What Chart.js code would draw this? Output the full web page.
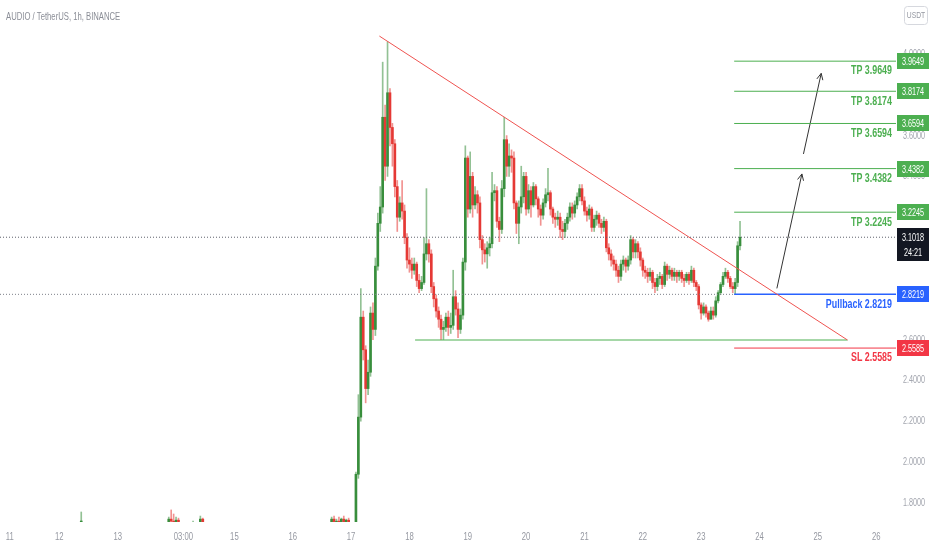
<!DOCTYPE html>
<html>
<head>
<meta charset="utf-8">
<script src="https://cdn.jsdelivr.net/npm/chart.js@4.4.1/dist/chart.umd.min.js"></script>
<style>
  html, body { margin: 0; padding: 0; background: #fff; }
  #wrap { width: 932px; height: 550px; position: relative; }
</style>
</head>
<body>
<div id="wrap"><canvas id="chart"></canvas></div>
<script>
// AUDIO/USDT 1h candles. x = day of month, y = price
const FONT = "'Liberation Sans', Arial, sans-serif";

// scattered pre-breakout bars (hours relative to day 17 00:00)
const earlyHours  = [-111, -75, -74, -73, -72, -71, -65, -62, -61, -8, -7, -6, -5, -4, -3, -2, -1, 0, 1];
const earlyOpens  = [1.70, 1.68, 1.72, 1.71, 1.69, 1.715, 1.68, 1.69, 1.72, 1.69, 1.72, 1.70, 1.71, 1.69, 1.72, 1.70, 1.715, 1.69, 1.68];
const earlyHighs  = [1.755, 1.73, 1.765, 1.745, 1.73, 1.725, 1.71, 1.735, 1.725, 1.73, 1.735, 1.72, 1.73, 1.725, 1.735, 1.72, 1.725, 1.70, 1.70];
const earlyLows   = [1.66, 1.65, 1.69, 1.68, 1.67, 1.68, 1.67, 1.68, 1.68, 1.67, 1.69, 1.68, 1.68, 1.68, 1.69, 1.68, 1.68, 1.66, 1.66];
const earlyCloses = [1.70, 1.72, 1.71, 1.69, 1.715, 1.69, 1.70, 1.72, 1.69, 1.72, 1.70, 1.71, 1.69, 1.72, 1.70, 1.715, 1.69, 1.68, 1.70];

// hourly bars from day 17 02:00 onwards
const firstHour = 2;
const firstOpen = 1.70;
const closes = [
  1.94, 2.22, 2.71, 2.55, 2.36, 2.44, 2.73, 2.65, 2.96, 3.17,
  3.25, 3.69, 3.45, 3.81, 3.64, 3.56, 3.35, 3.20, 3.27, 3.23,
  3.10, 2.99, 2.97, 2.94, 2.97, 2.89, 2.85, 2.88, 3.02, 3.07,
  3.02, 2.86, 2.80, 2.74, 2.70, 2.65, 2.66, 2.71, 2.66, 2.67,
  2.81, 2.75, 2.65, 2.72, 2.98, 3.49, 3.24, 3.40, 3.26, 3.31,
  3.27, 3.09, 3.04, 3.02, 3.05, 3.07, 3.32, 3.33, 3.18, 3.14,
  3.34, 3.58, 3.45, 3.50, 3.49, 3.27, 3.17, 3.25, 3.30, 3.40,
  3.24, 3.33, 3.26, 3.35, 3.29, 3.24, 3.21, 3.27, 3.31, 3.32,
  3.24, 3.20, 3.19, 3.20, 3.14, 3.13, 3.17, 3.20, 3.25, 3.22,
  3.26, 3.30, 3.34, 3.28, 3.23, 3.21, 3.24, 3.15, 3.19, 3.21,
  3.17, 3.15, 3.18, 3.05, 3.02, 2.99, 2.97, 2.94, 2.91, 2.97,
  2.99, 2.96, 2.99, 3.09, 3.03, 3.07, 3.03, 2.99, 2.94, 2.93,
  2.91, 2.93, 2.88, 2.86, 2.90, 2.91, 2.87, 2.96, 2.92, 2.94,
  2.91, 2.93, 2.91, 2.93, 2.90, 2.89, 2.92, 2.89, 2.94, 2.88,
  2.86, 2.77, 2.73, 2.76, 2.73, 2.70, 2.74, 2.72, 2.79, 2.83,
  2.87, 2.91, 2.93, 2.90, 2.86, 2.85, 2.88, 3.06, 3.1018
];
const highs = [
  1.95, 2.33, 2.85, 2.74, 2.57, 2.50, 2.76, 2.78, 3.00, 3.22,
  3.35, 3.96, 3.75, 4.06, 3.83, 3.66, 3.58, 3.38, 3.30, 3.38,
  3.26, 3.12, 3.05, 3.00, 3.00, 2.98, 2.92, 2.91, 3.10, 3.34,
  3.09, 3.04, 2.88, 2.82, 2.76, 2.72, 2.69, 2.73, 2.74, 2.73,
  2.94, 2.84, 2.78, 2.75, 3.00, 3.55, 3.50, 3.52, 3.42, 3.35,
  3.33, 3.30, 3.11, 3.07, 3.08, 3.10, 3.42, 3.36, 3.35, 3.20,
  3.38, 3.69, 3.60, 3.56, 3.53, 3.52, 3.28, 3.28, 3.45, 3.42,
  3.42, 3.36, 3.35, 3.37, 3.36, 3.30, 3.26, 3.29, 3.34, 3.44,
  3.33, 3.25, 3.22, 3.23, 3.22, 3.18, 3.19, 3.22, 3.27, 3.27,
  3.28, 3.32, 3.36, 3.36, 3.30, 3.25, 3.26, 3.25, 3.21, 3.23,
  3.22, 3.19, 3.20, 3.19, 3.07, 3.04, 3.01, 2.99, 2.96, 2.99,
  3.01, 3.00, 3.01, 3.11, 3.10, 3.09, 3.08, 3.05, 3.00, 2.96,
  2.95, 2.95, 2.94, 2.90, 2.92, 2.93, 2.92, 2.98, 2.97, 2.96,
  2.95, 2.95, 2.94, 2.94, 2.94, 2.92, 2.93, 2.93, 2.96, 2.95,
  2.89, 2.87, 2.78, 2.78, 2.77, 2.74, 2.76, 2.76, 2.81, 2.84,
  2.88, 2.93, 2.95, 2.94, 2.91, 2.88, 2.90, 3.08, 3.18
];
const lows = [
  1.68, 1.92, 2.20, 2.50, 2.29, 2.33, 2.42, 2.60, 2.62, 2.94,
  3.13, 3.22, 3.38, 3.40, 3.55, 3.45, 3.30, 3.13, 3.18, 3.19,
  3.07, 2.95, 2.93, 2.90, 2.92, 2.86, 2.83, 2.84, 2.87, 2.99,
  2.98, 2.83, 2.76, 2.71, 2.66, 2.60, 2.60, 2.64, 2.62, 2.63,
  2.65, 2.72, 2.61, 2.63, 2.70, 2.94, 3.20, 3.22, 3.20, 3.24,
  3.22, 3.05, 2.97, 2.98, 2.95, 3.01, 3.05, 3.28, 3.15, 3.08,
  3.12, 3.30, 3.40, 3.40, 3.42, 3.24, 3.12, 3.07, 3.22, 3.27,
  3.21, 3.22, 3.20, 3.25, 3.26, 3.20, 3.16, 3.19, 3.25, 3.28,
  3.21, 3.17, 3.15, 3.16, 3.10, 3.09, 3.10, 3.14, 3.18, 3.19,
  3.20, 3.24, 3.28, 3.26, 3.21, 3.18, 3.19, 3.13, 3.13, 3.16,
  3.15, 3.12, 3.13, 3.03, 2.99, 2.96, 2.94, 2.91, 2.88, 2.89,
  2.94, 2.93, 2.94, 2.97, 3.00, 3.00, 3.00, 2.96, 2.91, 2.90,
  2.88, 2.89, 2.85, 2.83, 2.84, 2.87, 2.85, 2.86, 2.89, 2.90,
  2.89, 2.89, 2.88, 2.89, 2.88, 2.86, 2.88, 2.87, 2.88, 2.86,
  2.84, 2.75, 2.70, 2.72, 2.71, 2.69, 2.70, 2.70, 2.71, 2.78,
  2.82, 2.86, 2.90, 2.88, 2.85, 2.83, 2.82, 2.86, 3.04
];

// axes
const xTickValues = [11.15, 12, 13, 14.125, 15, 16, 17, 18, 19, 20, 21, 22, 23, 24, 25, 26];
const xTickLabels = ['11', '12', '13', '03:00', '15', '16', '17', '18', '19', '20', '21', '22', '23', '24', '25', '26'];
const yTickValues = [1.8, 2.0, 2.2, 2.4, 2.6, 2.8, 3.0, 3.2, 3.4, 3.6, 3.8, 4.0];
const X_MIN = 10.9825, X_MAX = 26.34;
const Y_MIN = 1.7059, Y_MAX = 4.2647;

// drawings
const tpLevels = [3.9649, 3.8174, 3.6594, 3.4382, 3.2245];
const pullbackLevel = 2.8219;
const slLevel = 2.5585;
const lastPrice = 3.1018;
const countdown = '24:21';
const levelStart = 23.566;
const trendFrom = [17.485, 4.088];
const trendTo = [25.508, 2.598];
const supportLevel = 2.598;
const supportFrom = 18.097;
const arrowSegments = [
  [24.298, 2.851, 24.727, 3.412],
  [24.754, 3.510, 25.058, 3.905]
];

const GREEN = '#388e3c', RED = '#e53935';
const TP_GREEN = '#4caf50', BLUE = '#2962ff', SL_RED = '#f23645';

const hourToDay = h => 17 + h / 24;
const bodies = [], wicks = [], bodyColors = [], wickColors = [];
function addBar(h, o, hi, lo, c) {
  const x = hourToDay(h);
  const up = c >= o;
  bodies.push({ x, y: [o, c] });
  wicks.push({ x, y: [lo, hi] });
  bodyColors.push(up ? GREEN : RED);
  wickColors.push(up ? 'rgba(56,142,60,0.55)' : 'rgba(229,57,53,0.55)');
}
earlyHours.forEach((h, i) => addBar(h, earlyOpens[i], earlyHighs[i], earlyLows[i], earlyCloses[i]));
let prevClose = firstOpen;
closes.forEach((c, i) => {
  addBar(firstHour + i, prevClose, highs[i], lows[i], c);
  prevClose = c;
});

const seg = (pts, color, extra = {}) => Object.assign({
  type: 'line',
  data: pts.map(p => ({ x: p[0], y: p[1] })),
  borderColor: color, borderWidth: 1, pointRadius: 0, fill: false, order: 0
}, extra);

const lineSets = [
  seg([[X_MIN, lastPrice], [X_MAX, lastPrice]], '#5d606b', { borderDash: [1, 2] }),
  seg([[X_MIN, pullbackLevel], [levelStart, pullbackLevel]], '#7d808a', { borderDash: [1, 2] }),
  seg([trendFrom, trendTo], '#ef5350'),
  seg([[supportFrom, supportLevel], [trendTo[0], supportLevel]], TP_GREEN),
  ...tpLevels.map(v => seg([[levelStart, v], [X_MAX, v]], TP_GREEN)),
  seg([[levelStart, pullbackLevel], [X_MAX, pullbackLevel]], BLUE, { borderWidth: 1.5 }),
  seg([[levelStart, slLevel], [X_MAX, slLevel]], SL_RED),
  ...arrowSegments.map(a => seg([[a[0], a[1]], [a[2], a[3]]], '#333'))
];

// condensed text, like the narrow face in the screenshot
function squeezeText(ctx, text, x, y, align, sx) {
  ctx.save();
  ctx.translate(x, y);
  ctx.scale(sx, 1);
  ctx.textAlign = align;
  ctx.fillText(text, 0, 0);
  ctx.restore();
}

const overlay = {
  id: 'overlay',
  afterDraw(chart) {
    const { ctx, chartArea: area, scales } = chart;
    const xs = scales.x, ys = scales.y;
    ctx.save();
    ctx.textBaseline = 'middle';

    // axis labels
    ctx.font = '11px ' + FONT;
    ctx.fillStyle = '#a3a6af';
    ys.ticks.forEach(t => {
      squeezeText(ctx, t.value.toFixed(4), area.right + 18, ys.getPixelForValue(t.value), 'center', 0.66);
    });
    ctx.fillStyle = '#9598a1';
    xs.ticks.forEach((t, i) => {
      squeezeText(ctx, xTickLabels[i], xs.getPixelForValue(t.value), area.bottom + 15, 'center', 0.7);
    });

    // arrow heads
    ctx.strokeStyle = '#333';
    ctx.lineWidth = 1;
    arrowSegments.forEach(a => {
      const x0 = xs.getPixelForValue(a[0]), y0 = ys.getPixelForValue(a[1]);
      const x1 = xs.getPixelForValue(a[2]), y1 = ys.getPixelForValue(a[3]);
      const ang = Math.atan2(y1 - y0, x1 - x0);
      ctx.beginPath();
      [-0.45, 0.45].forEach(d => {
        ctx.moveTo(x1, y1);
        ctx.lineTo(x1 - 7 * Math.cos(ang + d), y1 - 7 * Math.sin(ang + d));
      });
      ctx.stroke();
    });

    // captions under the level lines
    const captions = tpLevels.map(v => ['TP ' + v.toFixed(4), v, TP_GREEN])
      .concat([['Pullback ' + pullbackLevel.toFixed(4), pullbackLevel, BLUE],
               ['SL ' + slLevel.toFixed(4), slLevel, SL_RED]]);
    ctx.font = 'bold 12px ' + FONT;
    captions.forEach(([t, v, c]) => {
      ctx.fillStyle = c;
      squeezeText(ctx, t, area.right - 4, ys.getPixelForValue(v) + 10, 'right', 0.74);
    });

    // price tags on the axis
    const tx = area.right + 1, tw = 32;
    ctx.font = '11px ' + FONT;
    captions.forEach(([t, v, c]) => {
      const yp = Math.round(ys.getPixelForValue(v));
      ctx.fillStyle = c;
      ctx.fillRect(tx, yp - 8, tw, 16);
      ctx.fillStyle = '#fff';
      squeezeText(ctx, v.toFixed(4), tx + tw / 2, yp + 0.5, 'center', 0.66);
    });
    const yl = Math.round(ys.getPixelForValue(lastPrice));
    ctx.fillStyle = '#131722';
    ctx.fillRect(tx, yl - 9, tw, 33);
    ctx.fillStyle = '#fff';
    squeezeText(ctx, lastPrice.toFixed(4), tx + tw / 2, yl + 1, 'center', 0.66);
    squeezeText(ctx, countdown, tx + tw / 2, yl + 16, 'center', 0.66);

    // header
    ctx.font = '11px ' + FONT;
    ctx.fillStyle = '#8a8d96';
    squeezeText(ctx, 'AUDIO / TetherUS, 1h, BINANCE', 6, 17, 'left', 0.7);

    // currency box
    ctx.strokeStyle = '#d6d8de';
    ctx.beginPath();
    ctx.roundRect(904.5, 6.5, 23, 18, 3);
    ctx.stroke();
    ctx.fillStyle = '#9598a1';
    ctx.font = '9px ' + FONT;
    squeezeText(ctx, 'USDT', 916, 16, 'center', 0.75);
    ctx.restore();
  }
};

new Chart(document.getElementById('chart'), {
  type: 'bar',
  data: {
    datasets: [
      ...lineSets,
      { type: 'bar', data: wicks, backgroundColor: wickColors, barThickness: 1, grouped: false, order: 3 },
      { type: 'bar', data: bodies, backgroundColor: bodyColors, barThickness: 2, minBarLength: 1, grouped: false, order: 2 }
    ]
  },
  options: {
    responsive: true,
    maintainAspectRatio: false,
    animation: false,
    layout: { padding: 0 },
    plugins: { legend: { display: false }, tooltip: { enabled: false } },
    scales: {
      x: {
        type: 'linear', min: X_MIN, max: X_MAX, offset: false,
        grid: { display: false, drawTicks: false }, border: { display: false },
        ticks: { display: false },
        afterBuildTicks: s => { s.ticks = xTickValues.map(v => ({ value: v })); },
        afterFit: s => { s.height = 28; s.paddingLeft = 0; s.paddingRight = 0; }
      },
      y: {
        position: 'right', min: Y_MIN, max: Y_MAX,
        grid: { display: false, drawTicks: false }, border: { display: false },
        ticks: { display: false },
        afterBuildTicks: s => { s.ticks = yTickValues.map(v => ({ value: v })); },
        afterFit: s => { s.width = 36; s.paddingTop = 0; s.paddingBottom = 0; }
      }
    }
  },
  plugins: [overlay]
});
</script>
</body>
</html>
